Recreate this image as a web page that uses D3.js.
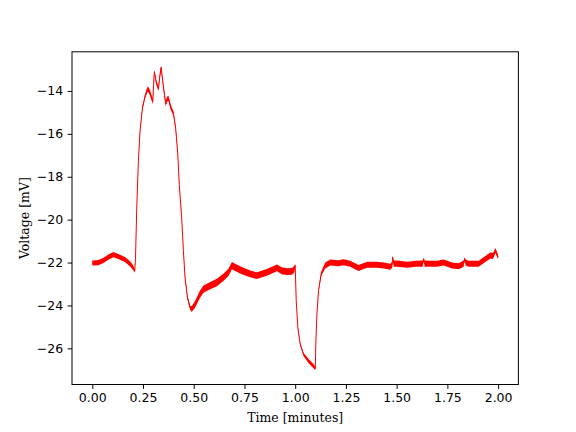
<!DOCTYPE html>
<html>
<head>
<meta charset="utf-8">
<script src="https://cdn.jsdelivr.net/npm/d3@7"></script>
<style>
  html, body { margin: 0; padding: 0; background: #ffffff; }
  svg { display: block; }
</style>
</head>
<body>
<svg id="chart" width="576" height="432"></svg>
<script>
// ---- data ----
const timeMin = [0.00,0.03,0.055,0.079,0.104,0.128,0.161,0.186,0.202,0.209,0.213,0.219,0.227,0.235,0.247,0.26,0.273,0.28,0.285,0.298,0.302,0.306,0.314,0.326,0.333,0.339,0.344,0.35,0.356,0.362,0.368,0.375,0.382,0.388,0.40,0.411,0.421,0.429,0.441,0.449,0.457,0.469,0.482,0.49,0.507,0.531,0.548,0.581,0.614,0.646,0.671,0.688,0.704,0.737,0.778,0.811,0.86,0.91,0.934,0.959,0.984,0.996,1.0,1.005,1.013,1.025,1.041,1.066,1.09,1.099,1.102,1.107,1.115,1.128,1.148,1.173,1.214,1.238,1.271,1.312,1.354,1.403,1.436,1.469,1.478,1.48,1.485,1.502,1.551,1.592,1.628,1.633,1.638,1.666,1.699,1.732,1.773,1.806,1.83,1.835,1.84,1.855,1.904,1.937,1.962,1.975,1.987,2.0];
const voltage = [-22.02,-22.0,-21.9,-21.75,-21.63,-21.72,-21.86,-22.06,-22.25,-22.4,-21.8,-19.5,-17.3,-15.9,-14.8,-14.25,-13.9,-14.0,-14.1,-14.5,-13.7,-13.1,-13.55,-13.9,-13.3,-12.9,-13.3,-13.75,-14.2,-14.6,-14.4,-14.33,-14.6,-14.8,-15.05,-15.75,-16.9,-18.4,-20.0,-21.44,-22.69,-23.63,-24.1,-24.17,-23.94,-23.47,-23.24,-23.08,-22.93,-22.69,-22.46,-22.14,-22.22,-22.38,-22.53,-22.61,-22.46,-22.25,-22.38,-22.42,-22.41,-22.3,-22.14,-23.78,-25.03,-25.81,-26.28,-26.6,-26.83,-26.94,-25.66,-24.41,-23.31,-22.53,-22.14,-22.0,-22.03,-21.99,-22.06,-22.25,-22.1,-22.1,-22.14,-22.19,-22.1,-21.75,-22.05,-22.05,-22.1,-22.06,-22.05,-21.86,-22.05,-22.06,-22.06,-22.0,-22.14,-22.17,-22.05,-21.83,-22.0,-22.06,-22.06,-21.83,-21.67,-21.7,-21.44,-21.75];
// half-width of the noise band around the trace (mV)
const noise = [0.12,0.12,0.12,0.12,0.12,0.12,0.12,0.12,0.11,0.08,0.04,0.04,0.04,0.06,0.08,0.1,0.12,0.12,0.12,0.12,0.1,0.08,0.1,0.1,0.1,0.08,0.1,0.1,0.12,0.12,0.12,0.12,0.12,0.12,0.1,0.08,0.05,0.04,0.04,0.04,0.06,0.08,0.1,0.13,0.16,0.17,0.17,0.17,0.17,0.17,0.17,0.17,0.17,0.17,0.16,0.16,0.16,0.16,0.16,0.16,0.16,0.15,0.08,0.04,0.04,0.06,0.08,0.1,0.1,0.08,0.04,0.04,0.06,0.1,0.14,0.14,0.14,0.14,0.14,0.14,0.14,0.14,0.14,0.14,0.14,0.08,0.14,0.14,0.14,0.14,0.14,0.08,0.14,0.14,0.14,0.14,0.14,0.14,0.14,0.08,0.14,0.14,0.14,0.14,0.14,0.14,0.12,0.1];
const xTicks = [0.00,0.25,0.50,0.75,1.00,1.25,1.50,1.75,2.00];
const yTicks = [-26,-24,-22,-20,-18,-16,-14];
const xLabel = "Time [minutes]";
const yLabel = "Voltage [mV]";

// ---- layout ----
const L = 72, R = 518.4, T = 51.8, B = 384.5;
const FS = 12.5, TICK = 4.375, LW = 1.0;
const svg = d3.select("#chart");

const xmin = d3.min(timeMin), xmax = d3.max(timeMin);
const xpad = (xmax - xmin) * 0.05;
const ymin = -26.98, ymax = -12.88;
const ypad = (ymax - ymin) * 0.05;

const x = d3.scaleLinear().domain([xmin - xpad, xmax + xpad]).range([L, R]);
const y = d3.scaleLinear().domain([ymin - ypad, ymax + ypad]).range([B, T]);

const pts = timeMin.map((t, i) => ({t, v: voltage[i], n: noise[i]}));

const area = d3.area()
  .x(d => x(d.t))
  .y0(d => y(d.v - d.n))
  .y1(d => y(d.v + d.n));
const line = d3.line().x(d => x(d.t)).y(d => y(d.v));

svg.append("path").datum(pts).attr("d", area)
  .attr("fill", "#ff0000").attr("stroke", "none");
svg.append("path").datum(pts).attr("d", line)
  .attr("fill", "none").attr("stroke", "#ff0000").attr("stroke-width", 1);

// frame
svg.append("rect").attr("x", L).attr("y", T).attr("width", R - L).attr("height", B - T)
  .attr("fill", "none").attr("stroke", "#000").attr("stroke-width", LW);

// axes
const fmtX = d3.format(".2f");
const xAxis = d3.axisBottom(x).tickValues(xTicks).tickSizeOuter(0).tickSize(TICK).tickPadding(TICK)
  .tickFormat(d => fmtX(d));
const gx = svg.append("g").attr("transform", `translate(0,${B})`).call(xAxis);
const yAxis = d3.axisLeft(y).tickValues(yTicks).tickSizeOuter(0).tickSize(TICK).tickPadding(TICK)
  .tickFormat(d => String(d).replace("-", "\u2212"));
const gy = svg.append("g").attr("transform", `translate(${L},0)`).call(yAxis);

[gx, gy].forEach(g => {
  g.select(".domain").remove();
  g.selectAll(".tick line").attr("stroke", "#000").attr("stroke-width", LW);
  g.selectAll(".tick text").attr("fill", "#000")
    .style("font-family", "'DejaVu Sans', sans-serif").style("font-size", FS + "px");
});

svg.append("text").attr("x", (L + R) / 2).attr("y", 422)
  .attr("text-anchor", "middle")
  .style("font-family", "'DejaVu Serif', serif").style("font-size", FS + "px")
  .text(xLabel);
svg.append("text").attr("transform", `translate(29,${(T + B) / 2}) rotate(-90)`)
  .attr("text-anchor", "middle")
  .style("font-family", "'DejaVu Serif', serif").style("font-size", FS + "px")
  .text(yLabel);
</script>
</body>
</html>
